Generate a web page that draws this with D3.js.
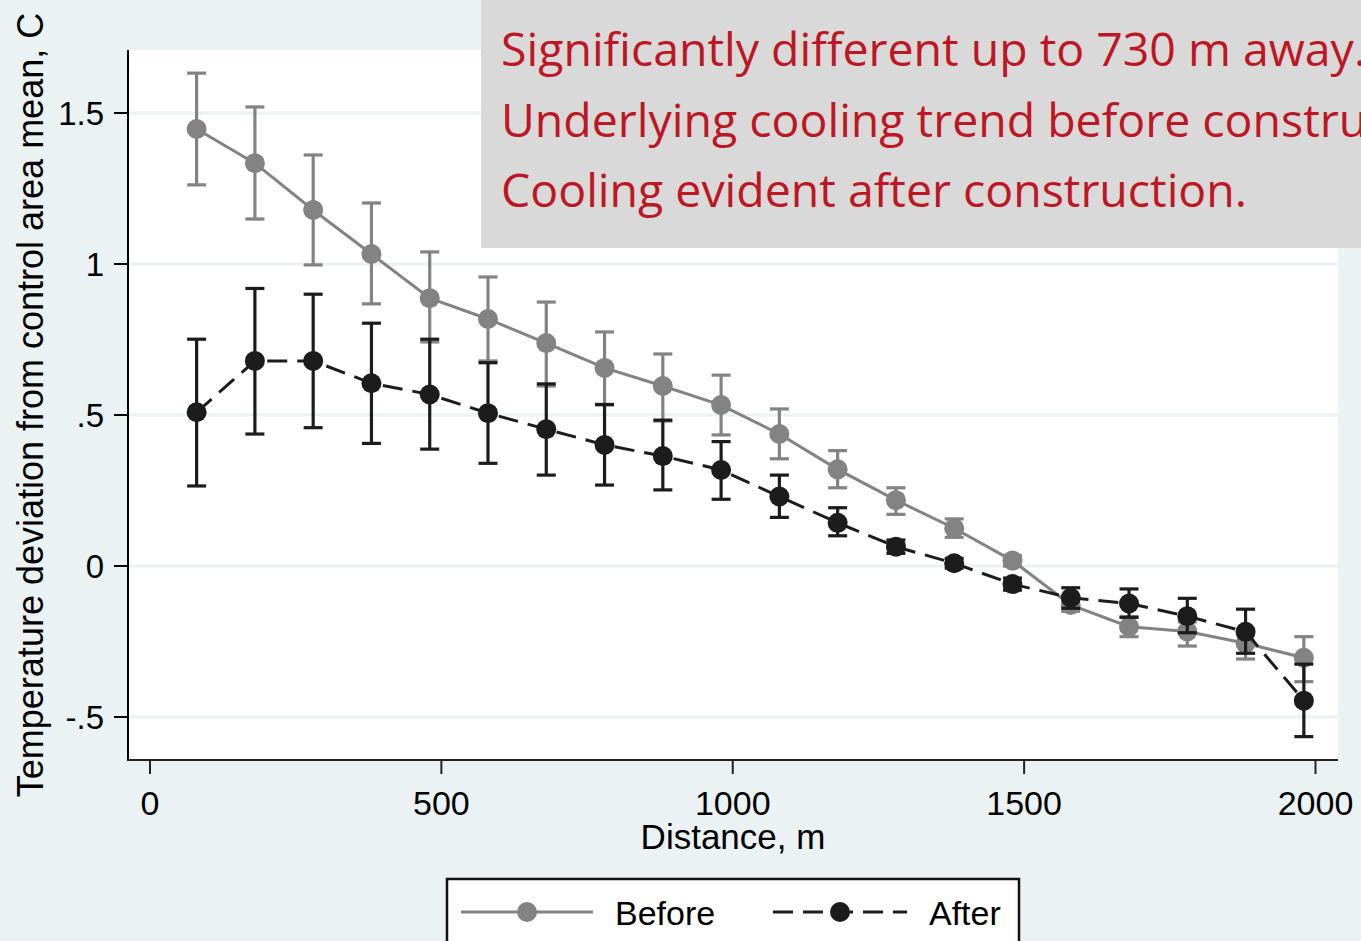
<!DOCTYPE html>
<html>
<head>
<meta charset="utf-8">
<script src="https://cdn.jsdelivr.net/npm/d3@7"></script>
<style>
  body { margin: 0; background: #EAF2F3; }
  svg { display: block; }
</style>
</head>
<body>
<script>
// distance bands (m) and the two series
var distance = [80, 180, 280, 380, 480, 580, 680, 780, 880, 980,
                1080, 1180, 1280, 1380, 1480, 1580, 1680, 1780, 1880, 1980];

var beforeMean = [1.447, 1.334, 1.179, 1.033, 0.887, 0.818, 0.738, 0.656, 0.596, 0.533,
                  0.437, 0.320, 0.218, 0.125, 0.018, -0.129, -0.201, -0.217, -0.256, -0.304];
var beforeHi   = [1.632, 1.520, 1.361, 1.202, 1.040, 0.957, 0.874, 0.775, 0.702, 0.632,
                  0.520, 0.382, 0.259, 0.156, 0.035, -0.105, -0.168, -0.185, -0.215, -0.234];
var beforeLo   = [1.262, 1.149, 0.997, 0.868, 0.742, 0.679, 0.596, 0.533, 0.480, 0.434,
                  0.355, 0.259, 0.171, 0.095, 0.000, -0.150, -0.234, -0.265, -0.308, -0.383];

var afterMean = [0.509, 0.679, 0.679, 0.605, 0.568, 0.506, 0.453, 0.401, 0.364, 0.318,
                 0.230, 0.143, 0.064, 0.009, -0.060, -0.105, -0.124, -0.166, -0.218, -0.446];
var afterHi   = [0.751, 0.919, 0.900, 0.804, 0.751, 0.673, 0.603, 0.535, 0.483, 0.412,
                 0.301, 0.193, 0.086, 0.025, -0.040, -0.072, -0.076, -0.107, -0.143, -0.325];
var afterLo   = [0.265, 0.437, 0.458, 0.406, 0.387, 0.340, 0.301, 0.268, 0.252, 0.221,
                 0.161, 0.100, 0.042, -0.007, -0.080, -0.140, -0.170, -0.221, -0.289, -0.565];

var xTicks = [0, 500, 1000, 1500, 2000];
var yTicks = [-0.5, 0, 0.5, 1, 1.5];
var yTickLabels = ["-.5", "0", ".5", "1", "1.5"];

var notes = ["Significantly different up to 730 m away.",
             "Underlying cooling trend before construction.",
             "Cooling evident after construction."];

var W = 1361, H = 941;
var plot = {left: 128, right: 1338, top: 50, bottom: 760};

var svg = d3.select("body").append("svg")
    .attr("width", W).attr("height", H);

svg.append("rect").attr("width", W).attr("height", H).attr("fill", "#EAF2F3");
svg.append("rect")
    .attr("x", plot.left).attr("y", plot.top)
    .attr("width", plot.right - plot.left).attr("height", plot.bottom - plot.top)
    .attr("fill", "#ffffff");

var x = d3.scaleLinear().domain([0, 2000]).range([150, 1315.5]);
var y = d3.scaleLinear().domain([-0.5, 1.5]).range([717, 113]);

var font = "'Liberation Sans', Arial, sans-serif";

// gridlines
svg.append("g").selectAll("line").data(yTicks).enter().append("line")
    .attr("x1", plot.left).attr("x2", plot.right)
    .attr("y1", function(d){ return y(d); }).attr("y2", function(d){ return y(d); })
    .attr("stroke", "#EAF2F3").attr("stroke-width", 3);

// build series
function rows(mean, lo, hi){
  return distance.map(function(d, i){ return {x: d, m: mean[i], lo: lo[i], hi: hi[i]}; });
}
var series = [
  {name: "Before", data: rows(beforeMean, beforeLo, beforeHi), color: "#838383", dash: null},
  {name: "After",  data: rows(afterMean, afterLo, afterHi),   color: "#1c1c1c", dash: "20,10"}
];

var line = d3.line().x(function(d){ return x(d.x); }).y(function(d){ return y(d.m); });
var cap = 9.5;

series.forEach(function(s){
  var g = svg.append("g");
  // error bars
  var bars = g.append("g").selectAll("g").data(s.data).enter().append("g");
  bars.append("line")
      .attr("x1", function(d){ return x(d.x); }).attr("x2", function(d){ return x(d.x); })
      .attr("y1", function(d){ return y(d.lo); }).attr("y2", function(d){ return y(d.hi); });
  bars.append("line")
      .attr("x1", function(d){ return x(d.x) - cap; }).attr("x2", function(d){ return x(d.x) + cap; })
      .attr("y1", function(d){ return y(d.hi); }).attr("y2", function(d){ return y(d.hi); });
  bars.append("line")
      .attr("x1", function(d){ return x(d.x) - cap; }).attr("x2", function(d){ return x(d.x) + cap; })
      .attr("y1", function(d){ return y(d.lo); }).attr("y2", function(d){ return y(d.lo); });
  bars.selectAll("line").attr("stroke", s.color).attr("stroke-width", 3.2);

  g.append("path").datum(s.data)
      .attr("d", line).attr("fill", "none")
      .attr("stroke", s.color).attr("stroke-width", 3)
      .attr("stroke-dasharray", s.dash);

  g.append("g").selectAll("circle").data(s.data).enter().append("circle")
      .attr("cx", function(d){ return x(d.x); }).attr("cy", function(d){ return y(d.m); })
      .attr("r", 10).attr("fill", s.color);
});

// axes
var yAxis = svg.append("g");
yAxis.append("line").attr("x1", plot.left).attr("x2", plot.left)
    .attr("y1", plot.top).attr("y2", plot.bottom + 1)
    .attr("stroke", "#000").attr("stroke-width", 2);
yAxis.selectAll(".tk").data(yTicks).enter().append("line")
    .attr("x1", plot.left - 14).attr("x2", plot.left)
    .attr("y1", function(d){ return y(d); }).attr("y2", function(d){ return y(d); })
    .attr("stroke", "#000").attr("stroke-width", 2);
yAxis.selectAll("text").data(yTicks).enter().append("text")
    .attr("x", 104).attr("y", function(d){ return y(d) + 12; })
    .attr("text-anchor", "end")
    .style("font-family", font).style("font-size", "33px")
    .text(function(d, i){ return yTickLabels[i]; });

var xAxis = svg.append("g");
xAxis.append("line").attr("x1", plot.left - 1).attr("x2", plot.right)
    .attr("y1", plot.bottom).attr("y2", plot.bottom)
    .attr("stroke", "#222").attr("stroke-width", 2);
xAxis.selectAll(".tk").data(xTicks).enter().append("line")
    .attr("x1", function(d){ return x(d); }).attr("x2", function(d){ return x(d); })
    .attr("y1", plot.bottom).attr("y2", plot.bottom + 14)
    .attr("stroke", "#222").attr("stroke-width", 2);
xAxis.selectAll("text").data(xTicks).enter().append("text")
    .attr("x", function(d){ return x(d); }).attr("y", 815)
    .attr("text-anchor", "middle")
    .style("font-family", font).style("font-size", "34px")
    .text(function(d){ return d; });

svg.append("text").attr("x", 733).attr("y", 849)
    .attr("text-anchor", "middle")
    .style("font-family", font).style("font-size", "35px")
    .text("Distance, m");

svg.append("text")
    .attr("transform", "translate(43," + ((plot.top + plot.bottom) / 2) + ") rotate(-90)")
    .attr("text-anchor", "middle")
    .style("font-family", font).style("font-size", "36px")
    .text("Temperature deviation from control area mean, C");

// legend
var lg = svg.append("g");
lg.append("rect").attr("x", 447).attr("y", 879).attr("width", 572).attr("height", 100)
    .attr("fill", "#fff").attr("stroke", "#111").attr("stroke-width", 2.5);
var entries = [{s: series[0], x0: 461, x1: 593, tx: 615},
               {s: series[1], x0: 773, x1: 907, tx: 929}];
entries.forEach(function(e){
  lg.append("line").attr("x1", e.x0).attr("x2", e.x1).attr("y1", 912).attr("y2", 912)
      .attr("stroke", e.s.color).attr("stroke-width", 3)
      .attr("stroke-dasharray", e.s.dash);
  lg.append("circle").attr("cx", (e.x0 + e.x1) / 2).attr("cy", 912).attr("r", 10)
      .attr("fill", e.s.color);
  lg.append("text").attr("x", e.tx).attr("y", 925)
      .style("font-family", font).style("font-size", "34px")
      .text(e.s.name);
});

// annotation box
var ann = svg.append("g");
ann.append("rect").attr("x", 481).attr("y", 0).attr("width", W - 481 + 20).attr("height", 248)
    .attr("fill", "#D9D9D9");
var tx = ann.selectAll("text").data(notes).enter().append("text")
    .attr("x", 501).attr("y", function(d, i){ return 66 + i * 70.5; })
    .attr("fill", "#BE1622")
    .style("font-family", "'Open Sans', 'Noto Sans', sans-serif").style("font-size", "46px")
    .text(function(d){ return d; });
// squeeze to the narrower face used in the original
var nat = tx.nodes().map(function(n){ return n.getComputedTextLength(); });
var ratio = 746 / nat[2];
tx.attr("textLength", function(d, i){ return nat[i] * ratio; })
  .attr("lengthAdjust", "spacingAndGlyphs");
</script>
</body>
</html>
